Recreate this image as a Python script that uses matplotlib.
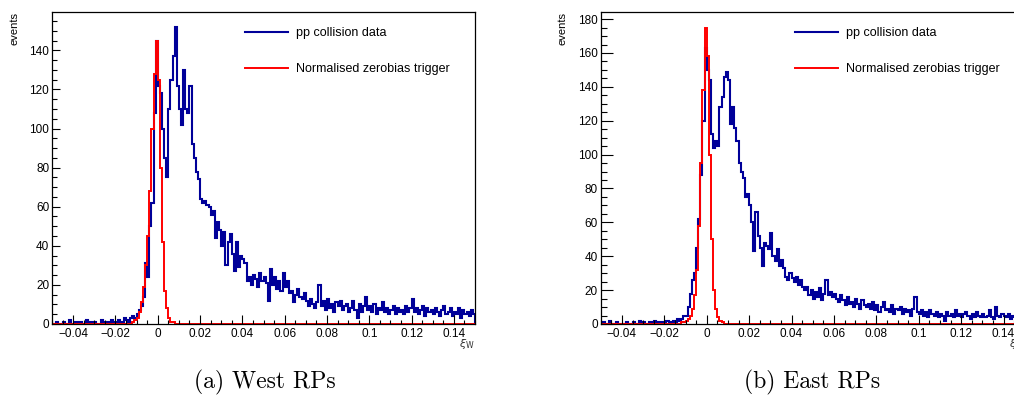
import numpy as np
import matplotlib
matplotlib.use("Agg")
import matplotlib.pyplot as plt
from matplotlib.ticker import MultipleLocator, FuncFormatter

plt.rcParams['font.family'] = ['Liberation Sans', 'DejaVu Sans']

# histogram binning: 200 bins of 0.001 between -0.05 and 0.15
x_lo, x_hi, n_bins = -0.05, 0.15, 200

# West RPs, pp collision data (one row = 10 bins)
west_pp = [
    0, 0, 1, 0, 0, 1, 0, 0, 2, 0,
    0, 1, 0, 1, 0, 0, 2, 0, 1, 0,
    1, 0, 0, 2, 1, 0, 1, 0, 2, 1,
    1, 2, 1, 0, 3, 2, 1, 3, 4, 3,
    5, 7, 9, 14, 31, 24, 50, 62, 108, 145,
    122, 118, 100, 85, 75, 110, 125, 137, 152, 122,
    110, 102, 130, 110, 108, 122, 92, 85, 78, 74,
    64, 62, 63, 61, 60, 56, 58, 44, 52, 48,
    40, 47, 30, 42, 46, 36, 27, 42, 29, 35,
    33, 31, 22, 24, 20, 25, 23, 19, 26, 22,
    24, 21, 12, 28, 20, 24, 18, 22, 17, 26,
    19, 22, 16, 17, 11, 15, 18, 14, 13, 16,
    12, 9, 13, 10, 8, 11, 20, 9, 12, 7,
    13, 8, 10, 6, 11, 9, 12, 7, 9, 10,
    6, 8, 12, 7, 3, 10, 6, 9, 14, 7,
    9, 6, 10, 5, 8, 7, 11, 6, 8, 5,
    7, 9, 5, 8, 6, 7, 5, 9, 6, 8,
    13, 6, 8, 5, 7, 9, 4, 8, 6, 7,
    5, 8, 6, 4, 7, 9, 5, 6, 8, 4,
    6, 5, 8, 3, 7, 5, 6, 4, 7, 5,
]

# East RPs, pp collision data
east_pp = [
    0, 1, 0, 0, 2, 0, 0, 1, 0, 0,
    0, 0, 1, 0, 0, 1, 0, 0, 2, 0,
    1, 0, 0, 1, 0, 2, 0, 1, 1, 0,
    1, 2, 0, 1, 2, 1, 3, 2, 3, 5,
    5, 10, 18, 26, 30, 45, 62, 88, 120, 163,
    150, 144, 112, 104, 108, 105, 128, 134, 146, 149,
    144, 118, 128, 116, 108, 95, 90, 86, 75, 77,
    70, 60, 43, 66, 52, 45, 34, 48, 46, 44,
    54, 40, 37, 44, 34, 38, 33, 28, 26, 30,
    27, 25, 28, 23, 26, 22, 20, 22, 17, 20,
    15, 19, 16, 21, 14, 18, 26, 17, 19, 16,
    18, 15, 13, 17, 14, 11, 16, 12, 13, 10,
    15, 12, 9, 14, 11, 10, 12, 9, 13, 8,
    11, 7, 10, 13, 8, 9, 7, 11, 6, 9,
    8, 10, 6, 9, 7, 8, 5, 9, 16, 7,
    6, 8, 5, 7, 4, 8, 6, 5, 7, 4,
    6, 5, 2, 7, 5, 6, 4, 8, 5, 6,
    4, 6, 7, 5, 3, 6, 4, 7, 5, 4,
    6, 4, 5, 8, 4, 3, 10, 5, 4, 6,
    5, 4, 6, 3, 5, 4, 6, 3, 5, 4,
]

# normalised zerobias trigger, bins from -0.012 to 0.008 (zero elsewhere)
zb_first_bin = 38
west_zb = [1, 2, 3, 6, 11, 19, 30, 45, 68, 100, 128, 145, 125, 80, 42, 17, 8, 3, 1, 1, 0]
east_zb = [1, 1, 2, 3, 5, 9, 17, 32, 58, 95, 138, 175, 158, 100, 50, 20, 9, 4, 2, 1, 0]

captions = ["(a) West RPs", "(b) East RPs"]
legend_labels = ["pp collision data", "Normalised zerobias trigger"]

W, H = 1014, 398
fig = plt.figure(figsize=(W / 100, H / 100), dpi=100)

edges = np.linspace(x_lo, x_hi, n_bins + 1)


def full_zb(vals):
    h = np.zeros(n_bins)
    h[zb_first_bin:zb_first_bin + len(vals)] = vals
    return h


def fmt(v, pos):
    v = round(v, 6)
    if abs(v) < 1e-9:
        return "0"
    return ("%g" % v).replace("-", "\u2212")


# (left px, right px, ymax, y major tick px, y minor tick px, events x px, ...)
panels = [
    (52, 475, 159.6, 8, 5, 14, west_pp, west_zb, 245, 265),
    (600.7, 1024.7, 184.2, 12, 6, 562, east_pp, east_zb, 795, 812),
]

for i, (l, r, ymax, ymaj, ymin, ev_x, pp, zb, leg_x, cap_x) in enumerate(panels):
    ax = fig.add_axes([l / W, 1 - 324 / H, (r - l) / W, (324 - 12) / H])
    ax.stairs(pp, edges, color="#000099", lw=1.5, label=legend_labels[0])
    ax.stairs(full_zb(zb), edges, color="#ff0000", lw=1.4, label=legend_labels[1],
              clip_on=False)
    ax.set_xlim(x_lo, x_hi)
    ax.set_ylim(0, ymax)

    ax.xaxis.set_major_locator(MultipleLocator(0.02))
    ax.xaxis.set_minor_locator(MultipleLocator(0.005))
    ax.yaxis.set_major_locator(MultipleLocator(20))
    ax.yaxis.set_minor_locator(MultipleLocator(5))
    ax.xaxis.set_major_formatter(FuncFormatter(fmt))
    ax.yaxis.set_major_formatter(FuncFormatter(fmt))
    ax.tick_params(axis="both", which="both", direction="in", top=False, right=False,
                   width=0.8, labelsize=8.5)
    ax.tick_params(axis="x", which="major", length=9 * 0.72, pad=3)
    ax.tick_params(axis="x", which="minor", length=4.5 * 0.72)
    ax.tick_params(axis="y", which="major", length=ymaj * 0.72, pad=2)
    ax.tick_params(axis="y", which="minor", length=ymin * 0.72)
    for s in ax.spines.values():
        s.set_linewidth(0.9)

    leg = ax.legend(loc="upper left", bbox_to_anchor=(leg_x / W, 1 - 27 / H),
                    bbox_transform=fig.transFigure, frameon=False, fontsize=9,
                    borderpad=0, borderaxespad=0, handlelength=3.4,
                    handletextpad=0.7, labelspacing=1.95)

    fig.text(ev_x / W, 1 - 12 / H, "events", rotation=90, ha="center", va="top",
             fontsize=8)
    fig.text(r / W, 1 - 344 / H, r"$\xi_{\mathrm{W}}$", ha="right", va="center",
             fontsize=8, color="#333333")
    fig.text(cap_x / W, 1 - 382 / H, captions[i], ha="center", va="center",
             fontsize=17, family="cmr10")

fig.savefig("out.png", dpi=100)
